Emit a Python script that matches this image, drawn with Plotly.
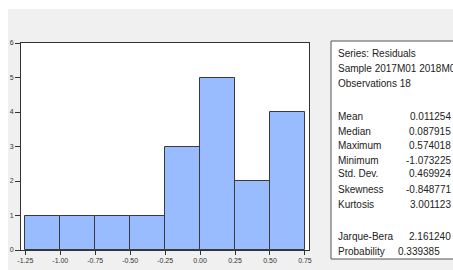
import plotly.graph_objects as go

# ---- data ----
bin_left = [-1.25, -1.00, -0.75, -0.50, -0.25, 0.00, 0.25, 0.50]
bin_width = 0.25
counts = [1, 1, 1, 1, 3, 5, 2, 4]
x_ticks = [-1.25, -1.00, -0.75, -0.50, -0.25, 0.00, 0.25, 0.50, 0.75]
x_ticktext = ["-1.25", "-1.00", "-0.75", "-0.50", "-0.25", "0.00", "0.25", "0.50", "0.75"]
y_ticks = [0, 1, 2, 3, 4, 5, 6]

header_lines = ["Series: Residuals", "Sample 2017M01 2018M06", "Observations 18"]
stat_labels = ["Mean", "Median", "Maximum", "Minimum", "Std. Dev.", "Skewness", "Kurtosis"]
stat_values = ["0.011254", "0.087915", "0.574018", "-1.073225", "0.469924", "-0.848771", "3.001123"]
test_labels = ["Jarque-Bera", "Probability"]
test_values = ["2.161240", "0.339385"]

# ---- layout geometry ----
W, H = 453, 270
L, R, T, B = 21, 144, 43, 20
PW, PH = W - L - R, H - T - B


def px(xp):
    return (xp - L) / PW


def py(yp):
    return (H - B - yp) / PH


centers = [b + bin_width / 2 for b in bin_left]

fig = go.Figure()
fig.add_trace(go.Bar(
    x=centers, y=counts, width=[bin_width] * len(counts),
    marker=dict(color="#99bbff", line=dict(color="#3a3a3a", width=1)),
    hoverinfo="skip",
))

FONT = "Liberation Sans, Arial, sans-serif"

shapes = [
    dict(type="rect", xref="paper", yref="paper", x0=px(8), x1=px(W), y0=py(9), y1=py(H),
         fillcolor="#f0f0f0", line=dict(width=0), layer="below"),
    dict(type="rect", xref="paper", yref="paper", x0=0, x1=1, y0=0, y1=1,
         fillcolor="white", line=dict(width=0), layer="below"),
    dict(type="rect", xref="paper", yref="paper", x0=px(331), x1=px(W + 1), y0=py(41), y1=py(259),
         fillcolor="white", line=dict(color="#555555", width=1), layer="below"),
]

annotations = []
row_y = [53, 68, 83]
for txt, yy in zip(header_lines, row_y):
    annotations.append(dict(text=txt, xref="paper", yref="paper", x=px(336), y=py(yy),
                            xanchor="left", yanchor="middle", showarrow=False))
stat_y = [116, 131, 145, 160, 174, 189, 204]
for lab, val, yy in zip(stat_labels, stat_values, stat_y):
    annotations.append(dict(text=lab, xref="paper", yref="paper", x=px(336), y=py(yy),
                            xanchor="left", yanchor="middle", showarrow=False))
    annotations.append(dict(text=val, xref="paper", yref="paper", x=px(453), y=py(yy),
                            xanchor="right", yanchor="middle", showarrow=False))
test_y = [236, 251]
test_right = [453, 442]
for lab, val, yy, xr in zip(test_labels, test_values, test_y, test_right):
    annotations.append(dict(text=lab, xref="paper", yref="paper", x=px(336), y=py(yy),
                            xanchor="left", yanchor="middle", showarrow=False))
    annotations.append(dict(text=val, xref="paper", yref="paper", x=px(xr), y=py(yy),
                            xanchor="right", yanchor="middle", showarrow=False))

fig.update_layout(
    width=W, height=H, autosize=False,
    margin=dict(l=L, r=R, t=T, b=B, pad=0, autoexpand=False),
    paper_bgcolor="white", plot_bgcolor="rgba(0,0,0,0)",
    showlegend=False, bargap=0,
    font=dict(family=FONT, size=10, color="#222222"),
    shapes=shapes, annotations=annotations,
)
fig.update_xaxes(
    range=[-1.281, 0.779], tickvals=x_ticks, ticktext=x_ticktext, automargin=False,
    ticks="outside", ticklen=4, tickcolor="#333333", tickwidth=1,
    tickfont=dict(size=7, color="#333333", family=FONT),
    showgrid=False, zeroline=False, showline=True, linecolor="#333333", linewidth=1, mirror=True,
)
fig.update_yaxes(
    range=[0, 6], tickvals=y_ticks, automargin=False,
    ticks="outside", ticklen=5, tickcolor="#333333", tickwidth=1,
    tickfont=dict(size=7, color="#333333", family=FONT),
    showgrid=False, zeroline=False, showline=True, linecolor="#333333", linewidth=1, mirror=True,
)

fig.write_html(
    "out.html",
    config={"displayModeBar": False},
    post_script=(
        "document.documentElement.style.margin='0';document.documentElement.style.overflow='hidden';"
        "document.body.style.margin='0';document.body.style.overflow='hidden';"
    ),
)
